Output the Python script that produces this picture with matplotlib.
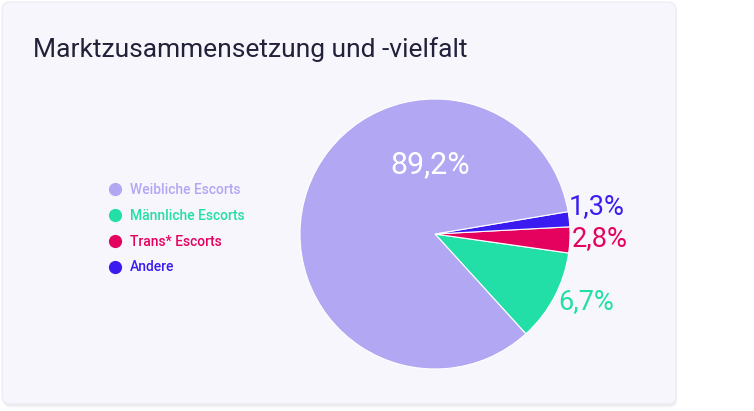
import numpy as np
import matplotlib.pyplot as plt
from matplotlib.patches import FancyBboxPatch
from matplotlib.lines import Line2D

plt.rcParams['font.family'] = ['Roboto', 'DejaVu Sans']

categories = ['Weibliche Escorts', 'Männliche Escorts', 'Trans* Escorts', 'Andere']
shares = [89.2, 6.7, 2.8, 1.3]              # labelled values
drawn_arcs = [84.1, 11.0, 3.1, 1.8]         # arc sizes as drawn in the picture
colors = ['#b1a7f3', '#22dea7', '#e5025f', '#3a1cf0']

W, H = 754, 411
fig = plt.figure(figsize=(W / 100, H / 100), dpi=100)
fig.patch.set_facecolor('white')
ax = fig.add_axes([0, 0, 1, 1])

# card with soft shadow
for off, a in [(3, 0.04), (2, 0.05), (1, 0.07)]:
    ax.add_patch(FancyBboxPatch((3, H - 405 - off), 674, 402, boxstyle='round,pad=0,rounding_size=8',
                                facecolor='#8a8aa0', edgecolor='none', alpha=a, zorder=0))
ax.add_patch(FancyBboxPatch((2, H - 404), 674, 402, boxstyle='round,pad=0,rounding_size=8',
                            facecolor='#f7f6fd', edgecolor='#ecebf4', linewidth=0.8, zorder=1))

ax.text(33, H - 50, 'Marktzusammensetzung und -vielfalt', fontsize=19, color='#22213a',
        va='center', ha='left', zorder=3)

# pie: draw order counter-clockwise from the lower right
order = [1, 2, 3, 0]
wedges, _ = ax.pie([drawn_arcs[i] for i in order], colors=[colors[i] for i in order],
                   startangle=-47.7, counterclock=True, center=(435, H - 234), radius=135,
                   wedgeprops=dict(edgecolor='white', linewidth=0.8), frame=True)
for w in wedges:
    w.set_zorder(2)

label_pos = {0: (430, 165), 1: (586, 302), 2: (600, 239), 3: (597, 207)}
label_size = {0: 22, 1: 19.5, 2: 19.5, 3: 19.5}
for i, cat in enumerate(categories):
    x, y = label_pos[i]
    txt = f'{shares[i]:.1f}%'.replace('.', ',')
    ax.text(x, H - y, txt, fontsize=label_size[i], ha='center', va='center',
            color='white' if i == 0 else colors[i], zorder=3)

# legend
handles = [Line2D([], [], marker='o', linestyle='none', markersize=9.5, markerfacecolor=c,
                  markeredgecolor='none') for c in colors]
leg = ax.legend(handles, categories, loc='upper left', bbox_to_anchor=(100 / W, 1 - 176 / H),
                bbox_transform=fig.transFigure, frameon=False, handletextpad=0.45,
                labelspacing=0.85, fontsize=10, handlelength=1.2, borderpad=0)
for t, c in zip(leg.get_texts(), colors):
    t.set_color(c)
    t.set_fontweight('medium')
leg.set_zorder(3)

ax.set_xlim(0, W)
ax.set_ylim(0, H)
ax.set_aspect('auto')
ax.axis('off')

fig.savefig('out.png', dpi=100, facecolor='white')
